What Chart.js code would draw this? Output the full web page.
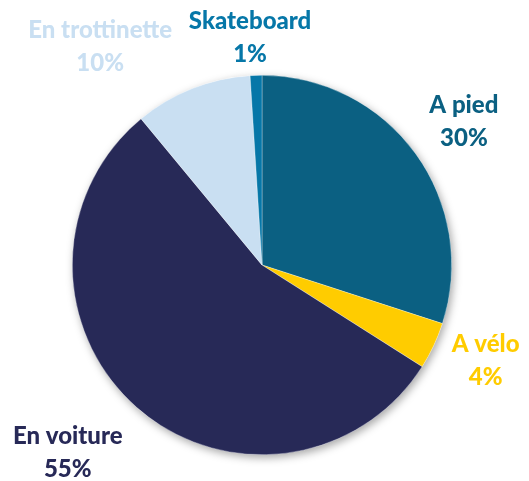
<!DOCTYPE html>
<html>
<head>
<meta charset="utf-8">
<script src="https://cdn.jsdelivr.net/npm/chart.js@4"></script>
<style>
  html, body { margin: 0; padding: 0; background: #fff; }
  #wrap { width: 529px; height: 481px; }
</style>
</head>
<body>
<div id="wrap"><canvas id="modes"></canvas></div>
<script>
var labels = ['A pied', 'A vélo', 'En voiture', 'En trottinette', 'Skateboard'];
var values = [30, 4, 55, 10, 1];
var colors = ['#0b6082', '#ffcc00', '#272957', '#c9dff2', '#0677a8'];

// where each label sits: angle (deg from top, clockwise) and distance from centre
var labelPlace = [
    { angle: 54.5, dist: 248 },
    { angle: 113, dist: 243 },
    { angle: 226, dist: 270 },
    { angle: 323.5, dist: 272 },
    { angle: 357, dist: 228 }
];

var shadowPlugin = {
    id: 'shadow',
    beforeDatasetsDraw: function(chart) {
        var arc = chart.getDatasetMeta(0).data[0];
        var ctx = chart.ctx;
        ctx.save();
        ctx.shadowColor = 'rgba(0,0,0,0.35)';
        ctx.shadowBlur = 9;
        ctx.shadowOffsetX = 2;
        ctx.shadowOffsetY = 3;
        ctx.fillStyle = '#fff';
        ctx.beginPath();
        ctx.arc(arc.x, arc.y, arc.outerRadius, 0, Math.PI * 2);
        ctx.fill();
        ctx.restore();
    }
};

var labelPlugin = {
    id: 'outLabels',
    afterDatasetsDraw: function(chart) {
        var arc = chart.getDatasetMeta(0).data[0];
        var ctx = chart.ctx;
        ctx.save();
        ctx.font = '900 24px Lato, "Open Sans", sans-serif';
        ctx.textAlign = 'center';
        ctx.textBaseline = 'middle';
        labels.forEach(function(name, i) {
            var a = labelPlace[i].angle * Math.PI / 180;
            var x = arc.x + Math.sin(a) * labelPlace[i].dist;
            var y = arc.y - Math.cos(a) * labelPlace[i].dist;
            ctx.fillStyle = colors[i];
            ctx.fillText(name, x, y - 16);
            ctx.fillText(values[i] + '%', x, y + 17);
        });
        ctx.restore();
    }
};

var ctx = document.getElementById('modes').getContext('2d');
var myChart = new Chart(ctx, {
    type: 'pie',
    data: {
        labels: labels,
        datasets: [{
            data: values,
            backgroundColor: colors,
            borderColor: 'rgba(255,255,255,0.5)',
            borderWidth: 0.6
        }]
    },
    options: {
        responsive: true,
        maintainAspectRatio: false,
        animation: false,
        layout: { padding: { top: 75, bottom: 26, left: 72, right: 77 } },
        plugins: {
            legend: { display: false },
            tooltip: { enabled: false }
        }
    },
    plugins: [shadowPlugin, labelPlugin]
});
</script>
</body>
</html>
